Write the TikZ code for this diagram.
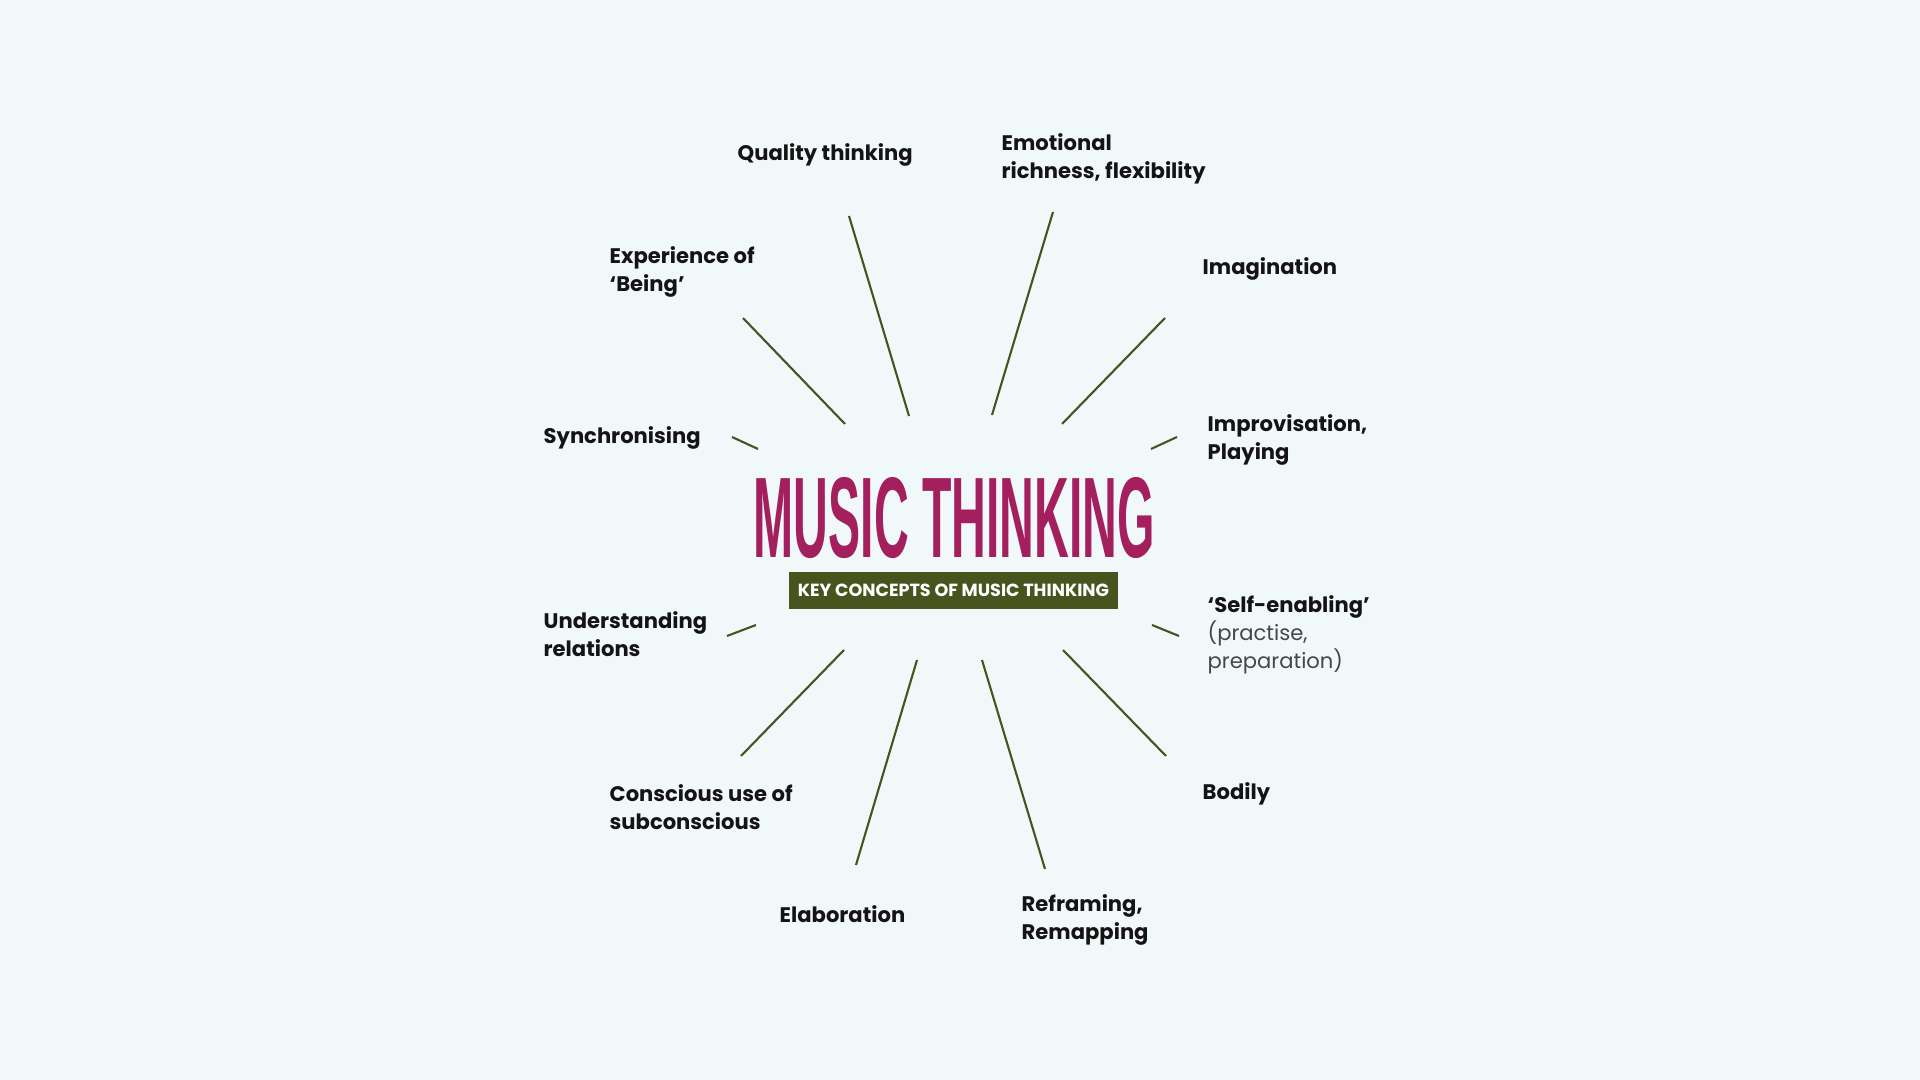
\documentclass[tikz,border=0pt]{standalone}
\usepackage{graphicx}
\usepackage{fontspec}
\setmainfont{Poppins}
\newfontfamily\titlefont{Liberation Sans}
\usepackage{tikz}

\definecolor{bgblue}{HTML}{F1F8FA}
\definecolor{mtolive}{HTML}{47541E}
\definecolor{mtmagenta}{HTML}{A31F5E}
\newcommand{\plainline}[1]{{\mdseries\color{black!72}#1}}

\begin{document}
\begin{tikzpicture}[x=0.01cm,y=-0.01cm,
  spoke/.style={draw=mtolive,line width=0.6pt},
  concept/.style={anchor=north west,inner sep=0pt,align=left,text=black!92,
    font=\fontsize{6.0}{8.0}\selectfont\bfseries}]
\fill[bgblue] (0,0) rectangle (1920,1080);
% title and banner
\node[anchor=north west,inner sep=0pt,text=mtmagenta] (title) at (753,477)
  {\resizebox{4.01cm}{0.8cm}{\titlefont\bfseries MUSIC THINKING}};
\node[fill=mtolive,minimum width=3.28cm,minimum height=0.373cm,inner sep=0pt] (banner) at (953.5,590.4)
  {\resizebox{3.11cm}{!}{\color{white}\bfseries KEY CONCEPTS OF MUSIC THINKING}};
% concepts
\node[concept] (quality) at (737,143) {Quality thinking};
\node[concept] (emotional) at (1001,133) {Emotional\\richness, flexibility};
\node[concept] (imagination) at (1202,257) {Imagination};
\node[concept] (being) at (609,246) {Experience of\\‘Being’};
\node[concept] (sync) at (543,426) {Synchronising};
\node[concept] (improv) at (1207,414) {Improvisation,\\Playing};
\node[concept] (relations) at (543,611) {Understanding\\relations};
\node[concept] (selfen) at (1207,595) {‘Self-enabling’\\\plainline{(practise,}\\\plainline{preparation)}};
\node[concept] (subcon) at (609,784) {Conscious use of\\subconscious};
\node[concept] (bodily) at (1202,782) {Bodily};
\node[concept] (elab) at (779,905) {Elaboration};
\node[concept] (reframe) at (1021,894) {Reframing,\\Remapping};
% spokes
\coordinate (qual-o) at (849,216);  \coordinate (qual-i) at (909,416);
\coordinate (emot-o) at (1053,212); \coordinate (emot-i) at (992,415);
\coordinate (expe-o) at (743,318);  \coordinate (expe-i) at (845,424);
\coordinate (imag-o) at (1165,318); \coordinate (imag-i) at (1062,424);
\coordinate (sync-o) at (732,437);  \coordinate (sync-i) at (758,449);
\coordinate (impr-o) at (1177,437); \coordinate (impr-i) at (1151,449);
\coordinate (unde-o) at (727,636);  \coordinate (unde-i) at (756,625);
\coordinate (self-o) at (1179,636); \coordinate (self-i) at (1152,625);
\coordinate (cons-o) at (741,756);  \coordinate (cons-i) at (844,650);
\coordinate (bodi-o) at (1166,756); \coordinate (bodi-i) at (1063,650);
\coordinate (elab-o) at (856,865);  \coordinate (elab-i) at (917,660);
\coordinate (refr-o) at (1045,869); \coordinate (refr-i) at (982,660);
\draw[spoke] (qual-o) -- (qual-i);
\draw[spoke] (emot-o) -- (emot-i);
\draw[spoke] (expe-o) -- (expe-i);
\draw[spoke] (imag-o) -- (imag-i);
\draw[spoke] (sync-o) -- (sync-i);
\draw[spoke] (impr-o) -- (impr-i);
\draw[spoke] (unde-o) -- (unde-i);
\draw[spoke] (self-o) -- (self-i);
\draw[spoke] (cons-o) -- (cons-i);
\draw[spoke] (bodi-o) -- (bodi-i);
\draw[spoke] (elab-o) -- (elab-i);
\draw[spoke] (refr-o) -- (refr-i);
\end{tikzpicture}
\end{document}
